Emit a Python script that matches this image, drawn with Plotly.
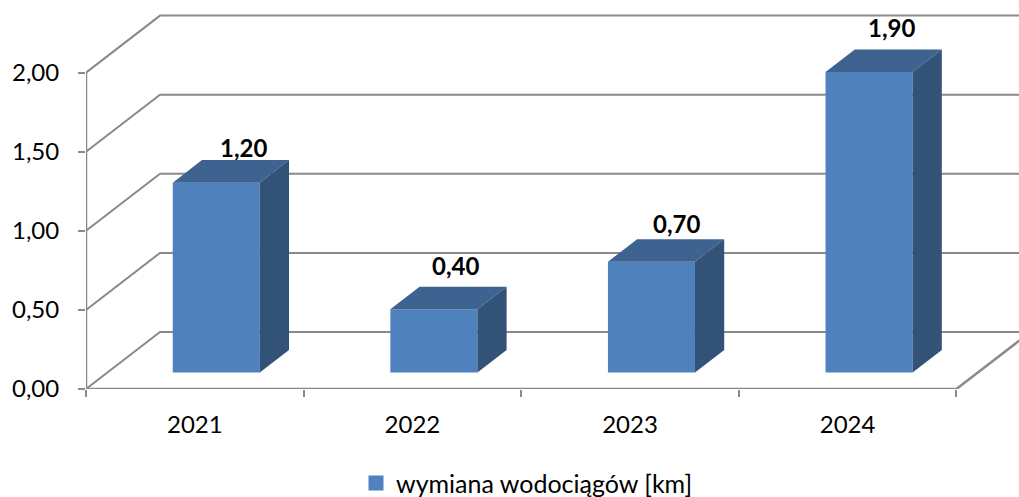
import plotly.graph_objects as go

categories = ["2021", "2022", "2023", "2024"]
values = [1.20, 0.40, 0.70, 1.90]
series_name = "wymiana wodociągów [km]"
y_ticks = [0.0, 0.5, 1.0, 1.5, 2.0]
y_tick_labels = ["0,00", "0,50", "1,00", "1,50", "2,00"]
value_labels = ["1,20", "0,40", "0,70", "1,90"]

# 3D look: how far one unit of depth shifts along each axis
PX_CAT, PX_VAL = 217.6, 158.2
DX, DY = 74 / PX_CAT, 57 / PX_VAL
D0, D1 = 0.29, 0.685      # bar front and back depth
BAR_W = 0.4
FONT = "Lato"
WALL = "#8a8a8a"
C_FRONT, C_TOP, C_SIDE = "#4f81bd", "#3e6391", "#325277"
L, T, B = 86, 10, 108
W, H = 1019, 497
X_MAX = (W - L) / PX_CAT
Y_MAX = (H - T - B) / PX_VAL
n = len(categories)


def proj(x, v, d):
    return x + d * DX, v + d * DY


fig = go.Figure()


def poly(corners, color, xa, ya):
    pts = [proj(*c) for c in corners] + [proj(*corners[0])]
    fig.add_trace(go.Scatter(x=[p[0] for p in pts], y=[p[1] for p in pts], mode="lines",
                             fill="toself", fillcolor=color, line=dict(width=0),
                             hoverinfo="skip", showlegend=False, xaxis=xa, yaxis=ya))


def wall(points, width=2):
    fig.add_trace(go.Scatter(x=[p[0] for p in points], y=[p[1] for p in points], mode="lines",
                             line=dict(color=WALL, width=width), hoverinfo="skip",
                             showlegend=False, xaxis="x", yaxis="y"))


# walls and floor sit in the base subplot so the bars overlap them
for v in y_ticks:
    wall([proj(0, v, 0), proj(0, v, 1), proj(n, v, 1)])
wall([proj(0, y_ticks[0], 0), proj(0, y_ticks[-1], 0)], 2.5)
wall([proj(0, 0, 0), proj(n, 0, 0), proj(n, 0, 1)], 2.5)

# bars: front through the bar trace, top and side as polygons
front_x = [i + 0.5 + D0 * DX for i in range(n)]
fig.add_trace(go.Bar(x=front_x, y=values, base=[D0 * DY] * n, width=BAR_W, name=series_name,
                     marker=dict(color=C_FRONT, line=dict(width=0)), showlegend=False,
                     xaxis="x2", yaxis="y2", hoverinfo="skip"))
for i, v in enumerate(values):
    a, b = i + 0.5 - BAR_W / 2, i + 0.5 + BAR_W / 2
    poly([(a, v, D0), (b, v, D0), (b, v, D1), (a, v, D1)], C_TOP, "x2", "y2")
    poly([(b, 0, D0), (b, v, D0), (b, v, D1), (b, 0, D1)], C_SIDE, "x2", "y2")

# legend entry with the reference's larger square swatch
fig.add_trace(go.Scatter(x=[None], y=[None], mode="markers", name=series_name,
                         marker=dict(symbol="square", size=15, color=C_FRONT),
                         xaxis="x2", yaxis="y2", hoverinfo="skip"))

# data labels, anchored on each bar's back top edge
shifts = [(-2, 13), (-8, 21), (-4, 16), (-7, 22)]
annotations = []
for i, v in enumerate(values):
    x, y = proj(i + 0.5, v, D1)
    annotations.append(dict(x=x, y=y, xref="x", yref="y", text=f"<b>{value_labels[i]}</b>",
                            showarrow=False, xshift=shifts[i][0], yshift=shifts[i][1],
                            font=dict(family=FONT, size=24, color="#000000")))

axis_font = dict(family=FONT, size=24, color="#000000")
fig.update_layout(
    width=W, height=H, margin=dict(l=L, r=0, t=T, b=B, autoexpand=False),
    paper_bgcolor="#ffffff", plot_bgcolor="#ffffff",
    barmode="overlay", annotations=annotations, showlegend=True,
    legend=dict(orientation="h", x=(356 - L) / (W - L), xanchor="left",
                y=-0.249, yanchor="middle",
                font=dict(family=FONT, size=25, color="#000000"),
                bgcolor="rgba(0,0,0,0)", itemwidth=30),
    xaxis=dict(range=[0, X_MAX], tickmode="array",
               tickvals=[i + 0.5 for i in range(n)], ticktext=categories,
               ticks="", ticklabelstandoff=19, showgrid=False, zeroline=False, showline=False,
               tickfont=axis_font,
               minor=dict(tickmode="array", tickvals=list(range(n + 1)), ticks="outside",
                          ticklen=7, tickwidth=2, tickcolor=WALL, showgrid=False)),
    yaxis=dict(range=[0, Y_MAX], tickmode="array", tickvals=y_ticks, ticktext=y_tick_labels,
               ticks="outside", ticklen=7, tickwidth=2, tickcolor=WALL, ticklabelstandoff=14,
               showgrid=False, zeroline=False, showline=False, tickfont=axis_font),
    xaxis2=dict(range=[0, X_MAX], overlaying="x", visible=False),
    yaxis2=dict(range=[0, Y_MAX], overlaying="y", visible=False),
)

fig.write_html("out.html", config={"displayModeBar": False},
               post_script="document.body.style.margin='0';document.documentElement.style.overflow='hidden';")
